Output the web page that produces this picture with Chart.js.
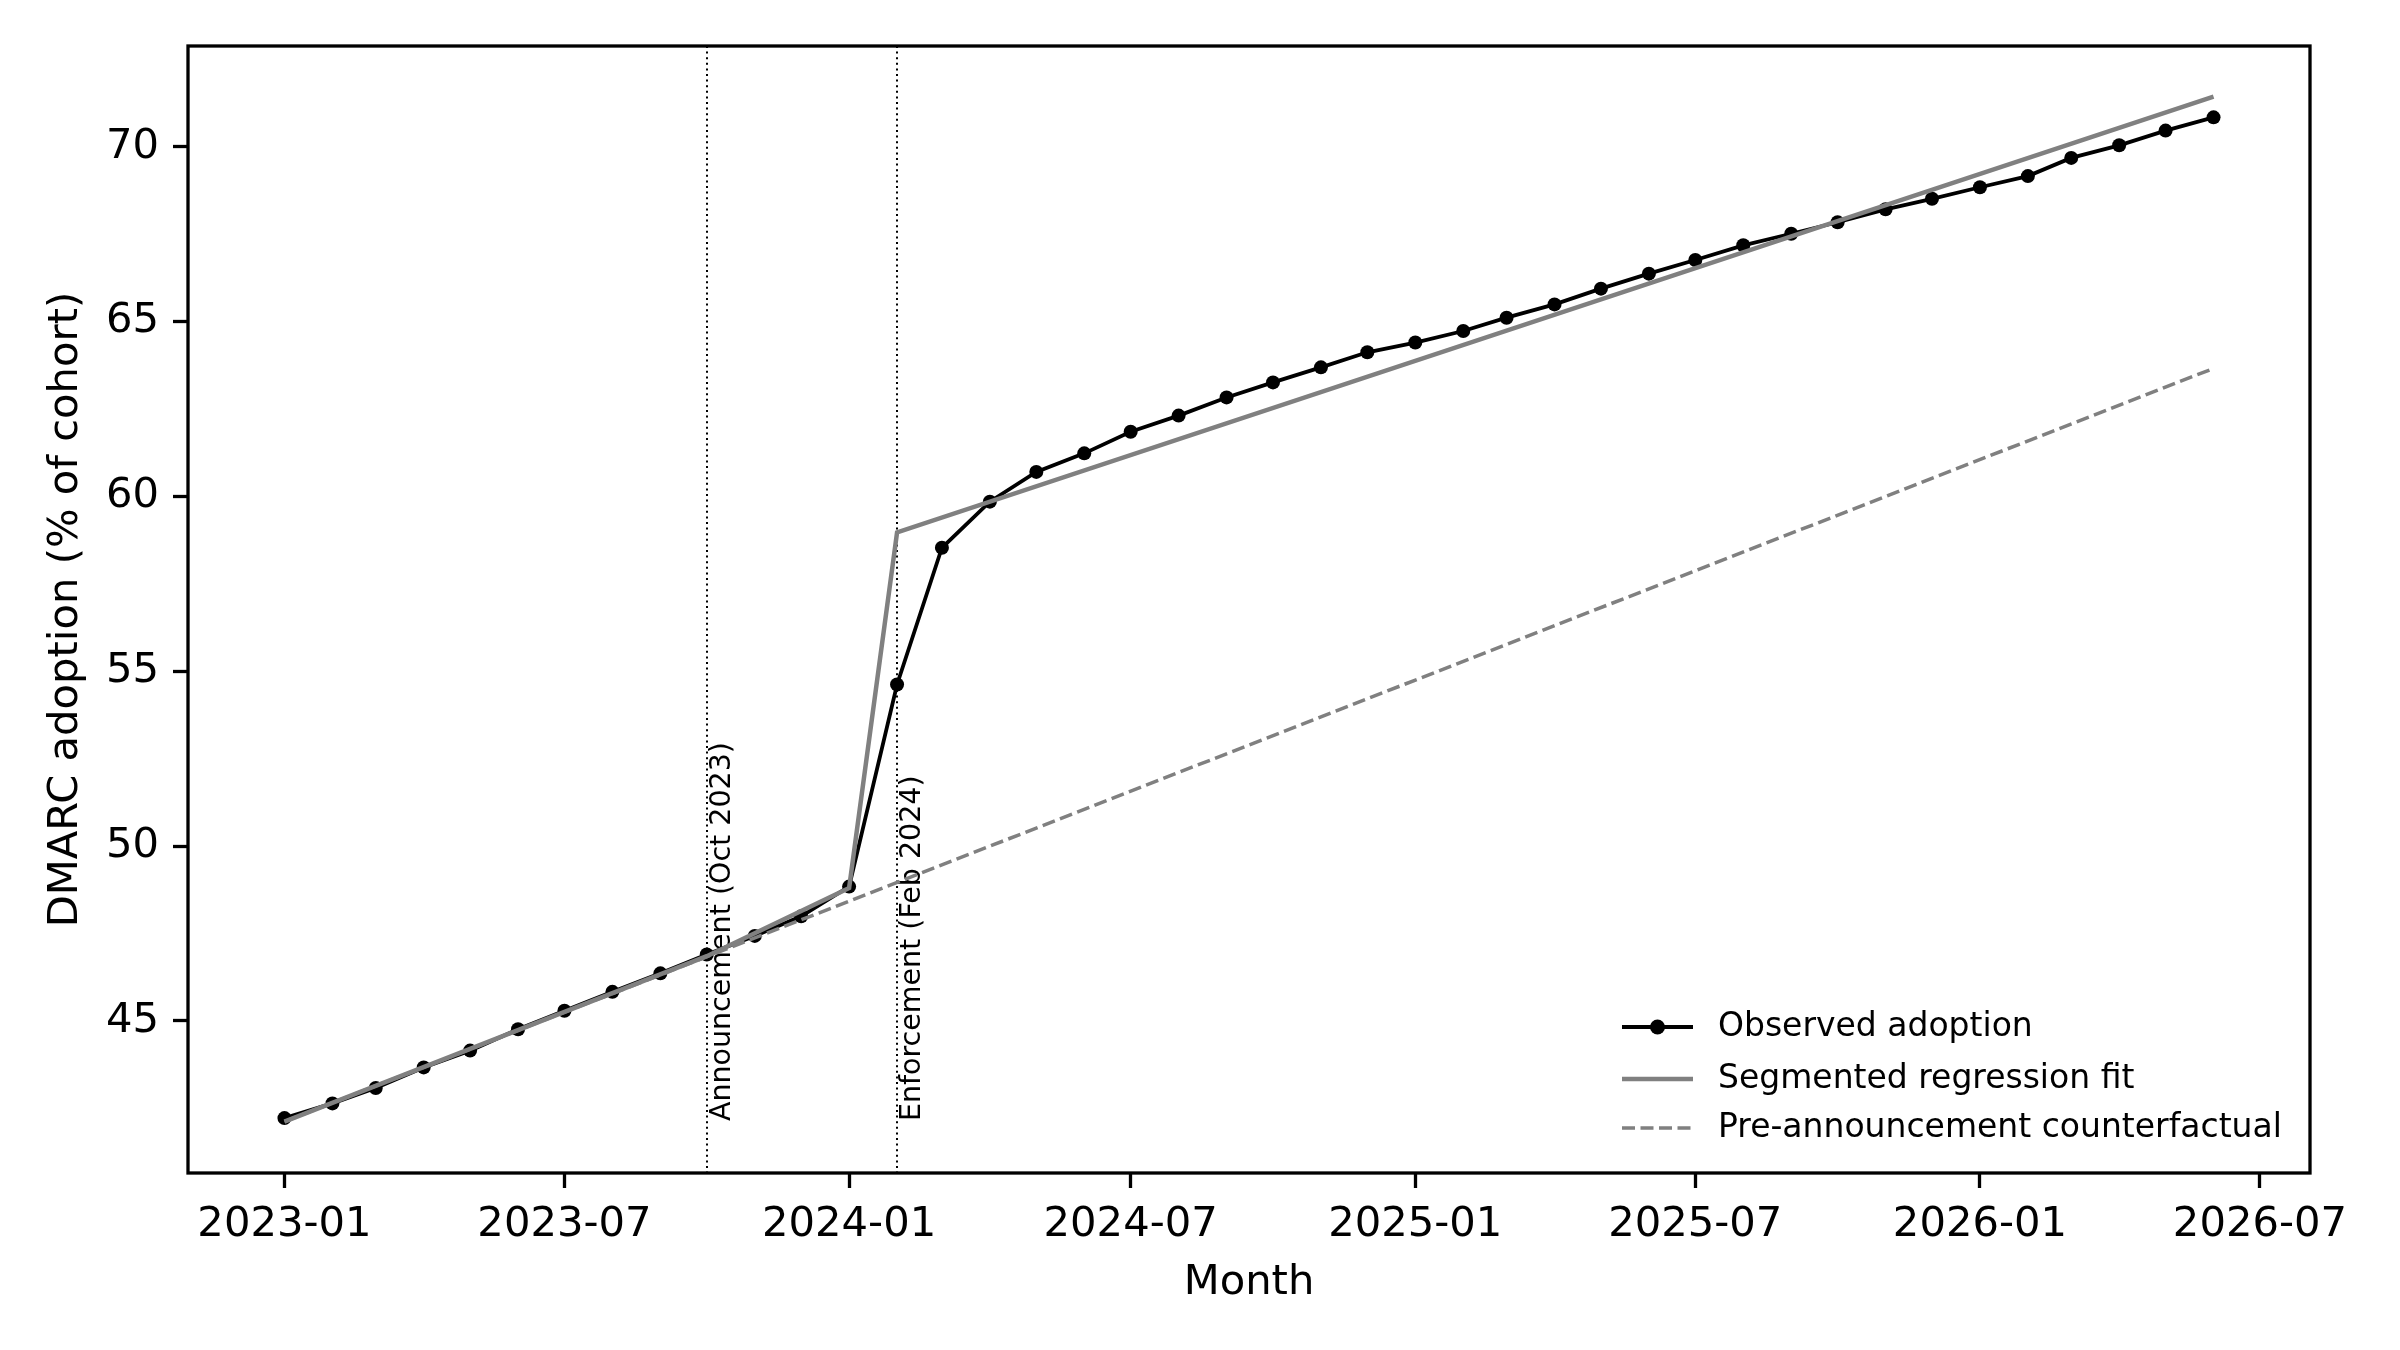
<!DOCTYPE html>
<html>
<head>
<meta charset="utf-8">
<script src="https://cdn.jsdelivr.net/npm/chart.js@4/dist/chart.umd.min.js"></script>
<style>
  html, body { margin: 0; padding: 0; background: #fff; }
  #wrap { width: 2400px; height: 1350px; }
</style>
</head>
<body>
<div id="wrap"><canvas id="dmarcChart" width="2400" height="1350"></canvas></div>
<script>
// ---- data ----
const MONTHS = [
  '2023-01','2023-02','2023-03','2023-04','2023-05','2023-06','2023-07','2023-08','2023-09','2023-10','2023-11','2023-12',
  '2024-01','2024-02','2024-03','2024-04','2024-05','2024-06','2024-07','2024-08','2024-09','2024-10','2024-11','2024-12',
  '2025-01','2025-02','2025-03','2025-04','2025-05','2025-06','2025-07','2025-08','2025-09','2025-10','2025-11','2025-12',
  '2026-01','2026-02','2026-03','2026-04','2026-05','2026-06'
];
const OBSERVED = [
  42.22, 42.64, 43.08, 43.67, 44.15, 44.76, 45.29, 45.83, 46.36, 46.90, 47.43, 47.99,
  48.84, 54.62, 58.53, 59.85, 60.70, 61.23, 61.85, 62.31, 62.83, 63.26, 63.69, 64.12,
  64.40, 64.73, 65.11, 65.49, 65.94, 66.37, 66.76, 67.18, 67.51, 67.84, 68.21, 68.51,
  68.84, 69.16, 69.68, 70.04, 70.46, 70.84
];
// segmented regression fit (breakpoints)
const FIT_MONTHS = ['2023-01', '2023-10', '2024-01', '2024-02', '2026-06'];
const FIT_VALUES = [42.12, 46.85, 48.80, 58.97, 71.43];
// pre-announcement trend extended
const CF_MONTHS = ['2023-01', '2026-06'];
const CF_VALUES = [42.12, 63.66];

const EVENT_MONTHS = ['2023-10', '2024-02'];
const EVENT_LABELS = ['Announcement (Oct 2023)', 'Enforcement (Feb 2024)'];

const X_TICK_LABELS = ['2023-01','2023-07','2024-01','2024-07','2025-01','2025-07','2026-01','2026-07'];
const Y_TICKS = [45, 50, 55, 60, 65, 70];

const LEGEND_LABELS = ['Observed adoption', 'Segmented regression fit', 'Pre-announcement counterfactual'];

// ---- helpers ----
const FONT = "'DejaVu Sans', sans-serif";
const GRAY = '#808080';

// months -> days since 2023-01-01 (time axis done on a linear scale)
function dayOf(m) {
  const [y, mo] = m.split('-').map(Number);
  return (Date.UTC(y, mo - 1, 1) - Date.UTC(2023, 0, 1)) / 86400000;
}
const pts = (months, vals) => months.map((m, i) => ({ x: dayOf(m), y: vals[i] }));

const firstDay = dayOf(MONTHS[0]);
const lastDay = dayOf(MONTHS[MONTHS.length - 1]);
const xPad = (lastDay - firstDay) * 0.05;

// ---- plugin: frame, event lines, legend ----
const decorations = {
  id: 'decorations',
  beforeDatasetsDraw(chart) {
    const { ctx, chartArea: a, scales: { x, y } } = chart;
    const yText = y.getPixelForValue(Math.min(...OBSERVED)) + 3;
    ctx.save();
    EVENT_MONTHS.forEach((m, i) => {
      const px = Math.round(x.getPixelForValue(dayOf(m)));
      ctx.strokeStyle = '#000';
      ctx.lineWidth = 2;
      ctx.setLineDash([2, 3.6]);
      ctx.beginPath();
      ctx.moveTo(px, a.top);
      ctx.lineTo(px, a.bottom);
      ctx.stroke();

      ctx.setLineDash([]);
      ctx.save();
      ctx.translate(px + 23, yText);
      ctx.rotate(-Math.PI / 2);
      ctx.fillStyle = '#000';
      ctx.font = `28.5px ${FONT}`;
      ctx.textAlign = 'left';
      ctx.textBaseline = 'alphabetic';
      ctx.fillText(EVENT_LABELS[i], 0, 0);
      ctx.restore();
    });
    ctx.restore();
  },
  afterDatasetsDraw(chart) {
    const { ctx, chartArea: a } = chart;
    ctx.save();
    // axes box
    ctx.strokeStyle = '#000';
    ctx.lineWidth = 3.3;
    ctx.strokeRect(a.left, a.top, a.right - a.left, a.bottom - a.top);

    // legend (lower right, no frame)
    const hx0 = a.right - 688, hx1 = a.right - 617, tx = a.right - 592;
    const rows = [a.bottom - 146, a.bottom - 94, a.bottom - 45];
    const styles = [
      { color: '#000', width: 3.8, dash: [], marker: true },
      { color: GRAY, width: 4.5, dash: [], marker: false },
      { color: GRAY, width: 3.5, dash: [13, 5.5], marker: false },
    ];
    rows.forEach((ry, i) => {
      const s = styles[i];
      ctx.strokeStyle = s.color;
      ctx.lineWidth = s.width;
      ctx.setLineDash(s.dash);
      ctx.beginPath();
      ctx.moveTo(hx0, ry);
      ctx.lineTo(hx1, ry);
      ctx.stroke();
      ctx.setLineDash([]);
      if (s.marker) {
        ctx.fillStyle = '#000';
        ctx.beginPath();
        ctx.arc((hx0 + hx1) / 2, ry, 7.5, 0, Math.PI * 2);
        ctx.fill();
      }
      ctx.fillStyle = '#000';
      ctx.font = `33px ${FONT}`;
      ctx.textAlign = 'left';
      ctx.textBaseline = 'middle';
      ctx.fillText(LEGEND_LABELS[i], tx, ry);
    });
    ctx.restore();
  }
};

Chart.defaults.font.family = FONT;
Chart.defaults.color = '#000';

new Chart(document.getElementById('dmarcChart'), {
  type: 'line',
  data: {
    datasets: [
      {
        label: LEGEND_LABELS[0],
        data: pts(MONTHS, OBSERVED),
        borderColor: '#000',
        backgroundColor: '#000',
        borderWidth: 3.8,
        pointRadius: 7,
        pointBorderWidth: 0,
        pointBackgroundColor: '#000',
        tension: 0,
        order: 3,
      },
      {
        label: LEGEND_LABELS[1],
        data: pts(FIT_MONTHS, FIT_VALUES),
        borderColor: GRAY,
        borderWidth: 4.5,
        pointRadius: 0,
        tension: 0,
        order: 2,
      },
      {
        label: LEGEND_LABELS[2],
        data: pts(CF_MONTHS, CF_VALUES),
        borderColor: GRAY,
        borderWidth: 3.5,
        borderDash: [13, 5.5],
        pointRadius: 0,
        tension: 0,
        order: 1,
      },
    ]
  },
  options: {
    responsive: false,
    animation: false,
    devicePixelRatio: 1,
    events: [],
    layout: { padding: { left: 0, top: 46, right: 90, bottom: 0 } },
    plugins: {
      legend: { display: false },
      tooltip: { enabled: false },
    },
    scales: {
      x: {
        type: 'linear',
        min: firstDay - xPad,
        max: lastDay + xPad,
        afterBuildTicks(scale) {
          scale.ticks = X_TICK_LABELS.map(l => ({ value: dayOf(l) }));
        },
        afterFit(scale) { scale.height = 177; },
        ticks: {
          autoSkip: false,
          maxRotation: 0,
          padding: 12,
          font: { size: 41.7 },
          color: '#000',
          callback: (v, i) => X_TICK_LABELS[i],
        },
        grid: {
          drawOnChartArea: false,
          drawTicks: true,
          tickLength: 15,
          tickWidth: 3.3,
          tickColor: '#000',
        },
        border: { display: false },
        title: {
          display: true,
          text: 'Month',
          font: { size: 41.7 },
          color: '#000',
          padding: { top: 0, bottom: 42 },
        },
      },
      y: {
        type: 'linear',
        min: 40.65,
        max: 72.88,
        afterBuildTicks(scale) {
          scale.ticks = Y_TICKS.map(v => ({ value: v }));
        },
        afterFit(scale) { scale.width = 188; },
        ticks: {
          padding: 14,
          font: { size: 41.7 },
          color: '#000',
          callback: v => String(v),
        },
        grid: {
          drawOnChartArea: false,
          drawTicks: true,
          tickLength: 15,
          tickWidth: 3.3,
          tickColor: '#000',
        },
        border: { display: false },
        title: {
          display: true,
          text: 'DMARC adoption (% of cohort)',
          font: { size: 41.7 },
          color: '#000',
          padding: { top: 41, bottom: 0 },
        },
      },
    }
  },
  plugins: [decorations]
});
</script>
</body>
</html>
